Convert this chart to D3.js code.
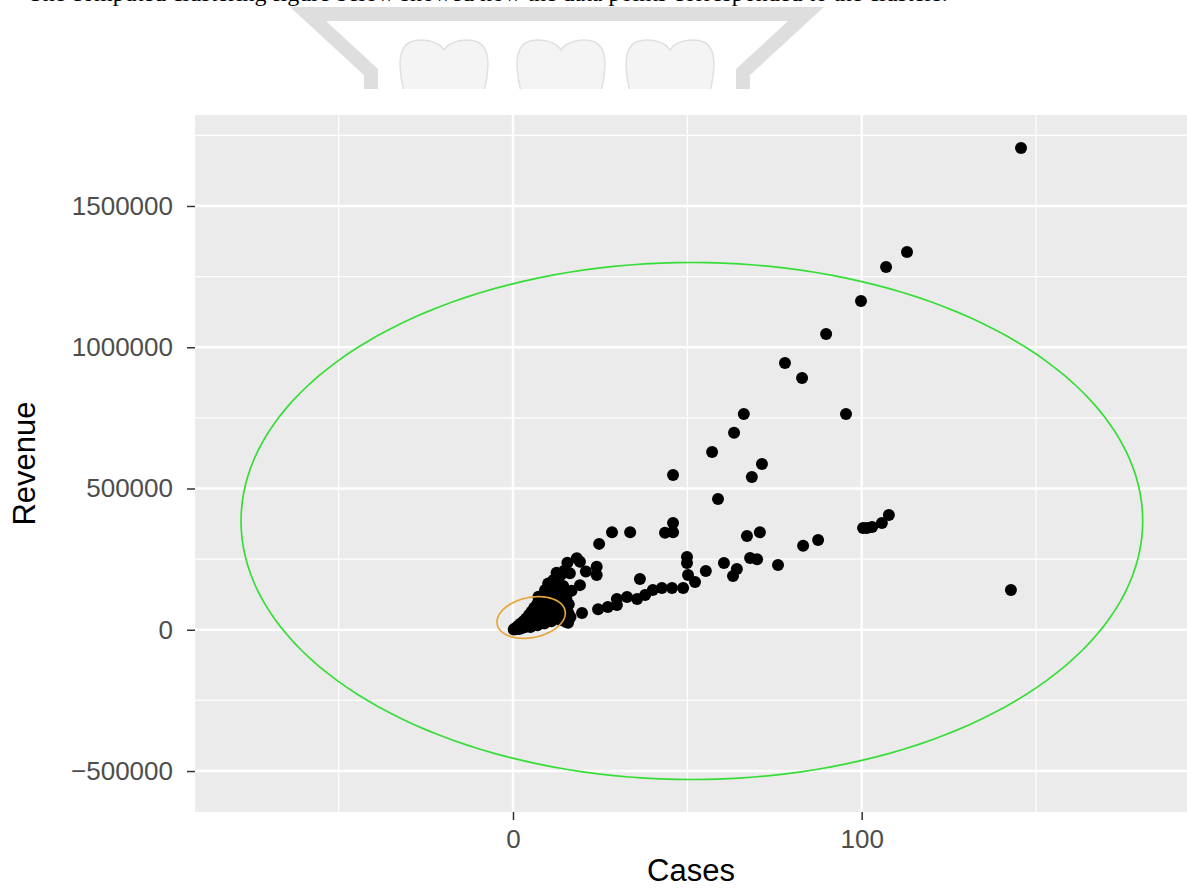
<!DOCTYPE html>
<html>
<head>
<meta charset="utf-8">
<script src="https://cdn.jsdelivr.net/npm/d3@7"></script>
<style>
  body { margin: 0; background: #fff; }
  svg { display: block; font-family: "Liberation Sans", Arial, sans-serif; }
</style>
</head>
<body>
<svg id="chart"></svg>
<script>
const width = 1187;
const height = 890;

// points (Cases, Revenue)
const cases = [
  145.7, 113.0, 107.0, 99.8, 89.8, 78.0, 82.9, 95.5, 66.2, 63.4,
  71.4, 68.5, 57.1, 45.9, 58.8, 45.9, 43.6, 45.9, 28.4, 33.6,
  24.7, 67.1, 70.8, 83.2, 87.5, 100.4, 103.0, 105.8, 107.8, 101.5,
  142.8, 49.9, 49.9, 68.0, 70.0, 60.5, 55.3, 64.2, 63.1, 76.0,
  50.2, 52.2, 48.8, 45.6, 42.7, 40.1, 36.4, 37.9, 35.6, 32.7,
  29.8, 29.8, 27.2, 24.4, 19.8,
  18.3, 15.6, 24.0, 24.0, 20.9, 19.2, 12.5, 16.3, 11.6, 19.2,
  16.8, 10.1, 9.2, 12.5, 14.0, 14.9, 7.3, 15.9, 14.4, 13.5,
  0.2, 0.5, 0.8, 1.0, 1.3, 1.5, 1.8, 2.0, 2.2, 2.5,
  2.7, 3.0, 3.2, 3.5, 3.8, 4.0, 4.3, 4.6, 4.8, 5.0,
  5.3, 5.6, 5.8, 6.1, 6.4, 6.7, 7.0, 7.3, 7.6, 7.9,
  8.2, 8.5, 8.8, 9.1, 9.4, 9.8, 10.1, 10.4, 10.8, 11.1,
  11.4, 11.8, 12.1, 12.4, 12.8, 13.1, 13.4, 13.8, 14.1, 14.4,
  14.8, 15.1, 15.3, 15.6, 16.0, 13.0, 11.0, 9.0, 7.0, 5.0,
  16.5, 15.8, 14.6, 12.0, 10.5
];
const revenue = [
  1705000, 1337000, 1284000, 1164000, 1047000, 944000, 891000, 764000, 764000, 697000,
  587000, 541000, 629000, 548000, 463000, 378000, 343000, 345000, 345000, 345000,
  304000, 332000, 345000, 297000, 318000, 360000, 364000, 378000, 406000, 360000,
  141000, 258000, 236000, 254000, 250000, 236000, 208000, 215000, 190000, 229000,
  194000, 169000, 148000, 148000, 148000, 141000, 180000, 123000, 109000, 116000,
  109000, 88000, 81000, 73000, 59000,
  253000, 237000, 223000, 194000, 206000, 241000, 202000, 200000, 176000, 158000,
  138000, 164000, 141000, 147000, 123000, 99000, 117000, 58000, 70000, 35000,
  1000, 4000, 2000, 8000, 5000, 14000, 3000, 10000, 22000, 6000,
  16000, 30000, 9000, 22000, 40000, 12000, 30000, 52000, 16000, 38000,
  64000, 22000, 48000, 78000, 28000, 58000, 92000, 34000, 70000, 104000,
  40000, 82000, 120000, 46000, 94000, 135000, 52000, 106000, 150000, 58000,
  118000, 165000, 66000, 130000, 180000, 74000, 142000, 195000, 82000, 155000,
  210000, 28000, 110000, 60000, 90000, 40000, 30000, 22000, 16000, 10000,
  45000, 25000, 50000, 96000, 88000
];

// cluster ellipses: centre, half widths, tilt, colour
const ellipseCx = [51.3, 5.2];
const ellipseCy = [385000, 43400];
const ellipseA = [129.3, 9.8];
const ellipseB = [915000, 72000];
const ellipseTilt = [0, 16000];
const ellipseColor = ['#37dd37', '#e6a537'];

const xMajor = [0, 100];
const xMinor = [-50, 50, 150];
const yMajor = [-500000, 0, 500000, 1000000, 1500000];
const yMinor = [-250000, 250000, 750000, 1250000, 1750000];

const svg = d3.select('#chart').attr('width', width).attr('height', height);

// page watermark behind the pasted chart
const wm = svg.append('g');
wm.append('path')
  .attr('d', 'M371,92 L371,72 L308,14 L806,14 L743,72 L743,92')
  .attr('fill', 'none')
  .attr('stroke', '#dedede')
  .attr('stroke-width', 14)
  .attr('stroke-linejoin', 'miter');
[444, 561, 670].forEach(cx => {
  wm.append('path')
    .attr('d', `M${cx},50 C${cx-6},40 ${cx-24},38 ${cx-34},42 C${cx-46},48 ${cx-46},66 ${cx-40},92 L${cx+40},92 C${cx+46},66 ${cx+46},48 ${cx+34},42 C${cx+24},38 ${cx+6},40 ${cx},50 Z`)
    .attr('fill', '#f4f4f4')
    .attr('stroke', '#e0e0e0')
    .attr('stroke-width', 1.5);
});
svg.append('text')
  .attr('x', 28).attr('y', 1)
  .style('font-family', '"Liberation Serif", "Times New Roman", serif')
  .style('font-size', '24px')
  .text('The computed clustering figure below showed how the data points corresponded to the clusters.');

// chart image
svg.append('rect').attr('x', 0).attr('y', 89).attr('width', width).attr('height', height - 89).attr('fill', '#fff');

const margin = {left: 195, right: 0, top: 115, bottom: 78};
const x = d3.scaleLinear().domain([-91.2, 193.3]).range([margin.left, width - margin.right]);
const y = d3.scaleLinear().domain([-645000, 1822000]).range([height - margin.bottom, margin.top]);

svg.append('rect')
  .attr('x', x.range()[0]).attr('y', y.range()[1])
  .attr('width', x.range()[1] - x.range()[0])
  .attr('height', y.range()[0] - y.range()[1])
  .attr('fill', '#ebebeb');

const grid = svg.append('g');
grid.selectAll('.xminor').data(xMinor).enter().append('line')
  .attr('x1', d => x(d)).attr('x2', d => x(d))
  .attr('y1', y.range()[0]).attr('y2', y.range()[1])
  .attr('stroke', '#fff').attr('stroke-width', 1.2);
grid.selectAll('.yminor').data(yMinor).enter().append('line')
  .attr('y1', d => y(d)).attr('y2', d => y(d))
  .attr('x1', x.range()[0]).attr('x2', x.range()[1])
  .attr('stroke', '#fff').attr('stroke-width', 1.2);
grid.selectAll('.xmajor').data(xMajor).enter().append('line')
  .attr('x1', d => x(d)).attr('x2', d => x(d))
  .attr('y1', y.range()[0]).attr('y2', y.range()[1])
  .attr('stroke', '#fff').attr('stroke-width', 2.4);
grid.selectAll('.ymajor').data(yMajor).enter().append('line')
  .attr('y1', d => y(d)).attr('y2', d => y(d))
  .attr('x1', x.range()[0]).attr('x2', x.range()[1])
  .attr('stroke', '#fff').attr('stroke-width', 2.4);

// points
svg.append('g').selectAll('circle')
  .data(cases.map((c, i) => ({c: c, r: revenue[i]})))
  .enter().append('circle')
  .attr('cx', d => x(d.c))
  .attr('cy', d => y(d.r))
  .attr('r', 6)
  .attr('fill', '#000');

// ellipses
const theta = d3.range(0, 2 * Math.PI, Math.PI / 90);
ellipseCx.forEach((cx, i) => {
  const line = d3.line()
    .x(t => x(cx + ellipseA[i] * Math.cos(t)))
    .y(t => y(ellipseCy[i] + ellipseB[i] * Math.sin(t) + ellipseTilt[i] * Math.cos(t)))
    .curve(d3.curveLinearClosed);
  svg.append('path')
    .attr('d', line(theta))
    .attr('fill', 'none')
    .attr('stroke', ellipseColor[i])
    .attr('stroke-width', 1.7);
});

// axes
const xAxis = svg.append('g')
  .attr('transform', `translate(0, ${y.range()[0]})`)
  .call(d3.axisBottom(x).tickValues(xMajor).tickSize(8).tickPadding(10).tickFormat(d3.format('d')));
const yAxis = svg.append('g')
  .attr('transform', `translate(${x.range()[0]}, 0)`)
  .call(d3.axisLeft(y).tickValues(yMajor).tickSize(8).tickPadding(14).tickFormat(d3.format('d')));
[xAxis, yAxis].forEach(a => {
  a.select('.domain').remove();
  a.selectAll('line').attr('stroke', '#333').attr('stroke-width', 1.5);
  a.selectAll('text')
    .attr('fill', '#4d4d4d')
    .style('font-size', '26px')
    .style('font-family', '"Liberation Sans", Arial, sans-serif');
});

svg.append('text')
  .attr('x', (x.range()[0] + x.range()[1]) / 2)
  .attr('y', 881)
  .attr('text-anchor', 'middle')
  .style('font-size', '31px')
  .text('Cases');
svg.append('text')
  .attr('transform', `translate(35, ${(y.range()[0] + y.range()[1]) / 2}) rotate(-90)`)
  .attr('text-anchor', 'middle')
  .style('font-size', '31px')
  .text('Revenue');
</script>
</body>
</html>
